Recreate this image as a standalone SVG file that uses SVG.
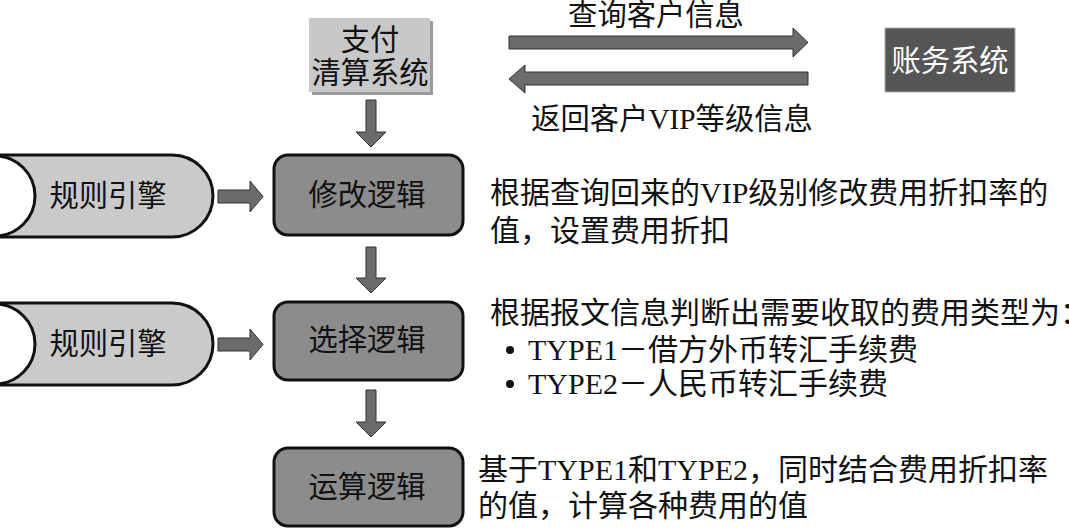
<svg xmlns="http://www.w3.org/2000/svg" width="1069" height="528" viewBox="0 0 1069 528">
<style>
text{font-family:"Liberation Serif","Noto Sans CJK SC",serif;font-size:29.3px;fill:#111}
.c{text-anchor:middle;dominant-baseline:central}
.l{dominant-baseline:central;font-size:30px}
.box{fill:#8c8c8c;stroke:#111;stroke-width:3}
.eng{fill:#cacaca;stroke:#111;stroke-width:3}
.arr{fill:#6b6b6b;stroke:#333;stroke-width:1}
</style>
<rect width="1069" height="528" fill="#fff"/>
<g id="payment">
<rect x="312" y="21" width="121" height="74" fill="#9a9a9a"/>
<rect x="309" y="18" width="121" height="74" fill="#c8c8c8"/>
<text class="c" x="370" y="40">支付</text>
<text class="c" x="370" y="73">清算系统</text>
</g>
<g id="account">
<rect x="885" y="28" width="130" height="64" fill="#555" stroke="#aaa" stroke-width="1"/>
<text class="c" x="950" y="61" style="fill:#fff">账务系统</text>
</g>
<g id="engine1">
<path class="eng" d="M-5,155 H172 A41,41 0 0 1 172,237 H-5 Z"/>
<ellipse cx="-5" cy="196" rx="40" ry="40" fill="#fff" stroke="#111" stroke-width="3"/>
<text class="c" x="108" y="196">规则引擎</text>
</g>
<g id="engine2">
<path class="eng" d="M-5,303 H172 A41,41 0 0 1 172,385 H-5 Z"/>
<ellipse cx="-5" cy="344" rx="40" ry="40" fill="#fff" stroke="#111" stroke-width="3"/>
<text class="c" x="108" y="344">规则引擎</text>
</g>
<g id="modify">
<rect class="box" x="274" y="155" width="189" height="80" rx="14"/>
<text class="c" x="367" y="195">修改逻辑</text>
</g>
<g id="select">
<rect class="box" x="274" y="302" width="189" height="78" rx="14"/>
<text class="c" x="367" y="340">选择逻辑</text>
</g>
<g id="calc">
<rect class="box" x="274" y="448" width="189" height="78" rx="14"/>
<text class="c" x="367" y="487">运算逻辑</text>
</g>
<g id="connectors">
<polygon class="arr" points="509,36 793,36 793,28 808,42.5 793,57 793,49 509,49"/>
<polygon class="arr" points="509,79 525,65 525,72 808,72 808,85 525,85 525,93"/>
<polygon class="arr" points="366,100 376,100 376,132 386,132 371,147 356,132 366,132"/>
<polygon class="arr" points="366,247 376,247 376,278 386,278 371,293 356,278 366,278"/>
<polygon class="arr" points="366,390 376,390 376,422 386,422 371,437 356,422 366,422"/>
<polygon class="arr" points="218,190 250,190 250,181 263,196.5 250,212 250,203 218,203"/>
<polygon class="arr" points="218,338 250,338 250,329 263,344.5 250,360 250,351 218,351"/>
<text class="c" x="656" y="15">查询客户信息</text>
<text class="c" x="672" y="119">返回客户VIP等级信息</text>
</g>
<g id="notes">
<text class="l" x="490" y="192">根据查询回来的VIP级别修改费用折扣率的</text>
<text class="l" x="490" y="230">值，设置费用折扣</text>
<text class="l" x="490" y="312">根据报文信息判断出需要收取的费用类型为：</text>
<circle cx="510" cy="350" r="4" fill="#111"/>
<text class="l" x="528" y="349">TYPE1－借方外币转汇手续费</text>
<circle cx="510" cy="384" r="4" fill="#111"/>
<text class="l" x="528" y="383">TYPE2－人民币转汇手续费</text>
<text class="l" x="478" y="469">基于TYPE1和TYPE2，同时结合费用折扣率</text>
<text class="l" x="478" y="505">的值，计算各种费用的值</text>
</g>
</svg>
